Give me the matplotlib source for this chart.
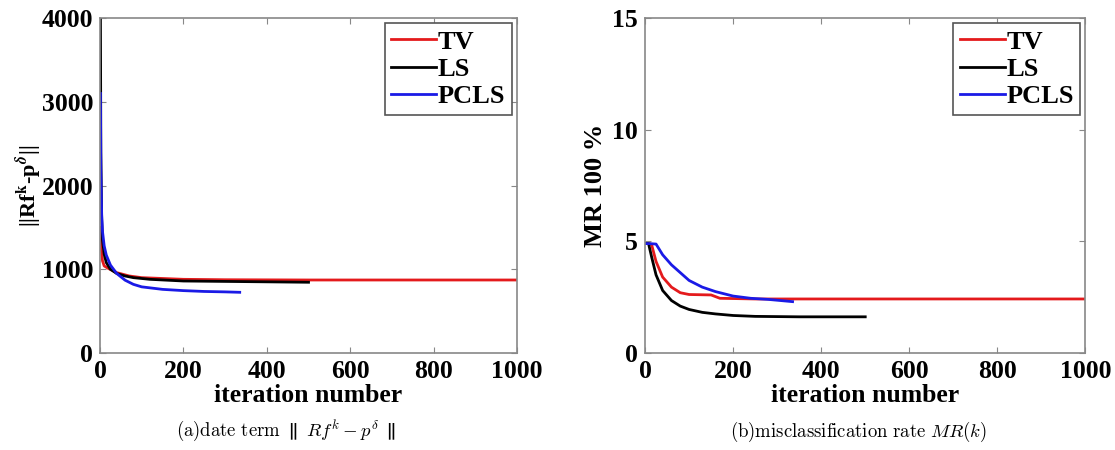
import matplotlib
matplotlib.use("Agg")
import matplotlib.pyplot as plt
import numpy as np

# (a) data term ||Rf^k - p^delta||
tv_a_x = [0, 3, 6, 10, 20, 40, 70, 100, 150, 200, 300, 500, 700, 1000]
tv_a_y = [1500, 1250, 1100, 1040, 1010, 960, 920, 900, 890, 880, 875, 872, 872, 872]
ls_a_x = [1, 2, 4, 6, 10, 15, 25, 40, 60, 80, 120, 200, 300, 400, 500]
ls_a_y = [4000, 2400, 1600, 1350, 1180, 1080, 1000, 950, 920, 900, 880, 860, 855, 850, 845]
pcls_a_x = [1, 2, 4, 6, 10, 15, 25, 40, 60, 80, 100, 150, 200, 250, 300, 335]
pcls_a_y = [3100, 2200, 1650, 1450, 1280, 1170, 1050, 950, 870, 820, 790, 760, 745, 735, 730, 725]

# (b) misclassification rate MR(k)
tv_b_x = [0, 10, 15, 25, 40, 60, 80, 100, 150, 170, 250, 400, 600, 1000]
tv_b_y = [4.9, 4.9, 4.85, 4.1, 3.4, 2.95, 2.7, 2.62, 2.6, 2.45, 2.42, 2.42, 2.42, 2.42]
ls_b_x = [0, 8, 15, 25, 40, 60, 80, 100, 130, 160, 200, 250, 350, 500]
ls_b_y = [4.9, 4.9, 4.3, 3.5, 2.8, 2.35, 2.1, 1.95, 1.82, 1.75, 1.68, 1.64, 1.62, 1.62]
pcls_b_x = [0, 10, 25, 40, 60, 80, 100, 130, 160, 200, 240, 280, 335]
pcls_b_y = [4.9, 4.9, 4.88, 4.4, 3.95, 3.6, 3.25, 2.95, 2.75, 2.55, 2.45, 2.4, 2.3]

labels = ["TV", "LS", "PCLS"]
colors = ["#e41a1c", "black", "#1a1ae6"]

plt.rcParams["font.family"] = "Liberation Serif"
plt.rcParams["font.weight"] = "bold"

fig = plt.figure(figsize=(11.15, 4.5), dpi=100)
ax1 = fig.add_axes([0.0897, 0.2156, 0.374, 0.744])
ax2 = fig.add_axes([0.5785, 0.2156, 0.395, 0.744])


def style(ax, ylim, yticks):
    ax.set_xlim(0, 1000)
    ax.set_ylim(*ylim)
    ax.set_xticks([0, 200, 400, 600, 800, 1000])
    ax.set_yticks(yticks)
    ax.tick_params(direction="in", top=True, right=True, labelsize=18.5,
                   length=4, color="#888888", pad=5)
    for lbl in ax.get_xticklabels() + ax.get_yticklabels():
        lbl.set_fontweight("bold")
    for s in ax.spines.values():
        s.set_color("#888888")
        s.set_linewidth(1.2)
    ax.set_xlabel("iteration number", fontsize=18.5, fontweight="bold", labelpad=1)
    leg = ax.legend(loc="upper right", handlelength=1.7,
                    fancybox=False, framealpha=1, borderpad=0.25,
                    borderaxespad=0.2,
                    labelspacing=0.15, handletextpad=0.05,
                    prop={"weight": "bold", "size": 19})
    leg.get_frame().set_edgecolor("#555555")
    leg.get_frame().set_linewidth(1.2)


ax1.plot(tv_a_x, tv_a_y, color=colors[0], lw=2, label=labels[0])
ax1.plot(ls_a_x, ls_a_y, color=colors[1], lw=2, label=labels[1])
ax1.plot(pcls_a_x, pcls_a_y, color=colors[2], lw=2, label=labels[2])
style(ax1, (0, 4000), [0, 1000, 2000, 3000, 4000])
ax1.set_ylabel(r"||Rf$^{\mathbf{k}}$-p$^{\delta}$||", fontsize=16,
               fontweight="bold", math_fontfamily="stix", labelpad=-1)

ax2.plot(tv_b_x, tv_b_y, color=colors[0], lw=2, label=labels[0])
ax2.plot(ls_b_x, ls_b_y, color=colors[1], lw=2, label=labels[1])
ax2.plot(pcls_b_x, pcls_b_y, color=colors[2], lw=2, label=labels[2])
style(ax2, (0, 15), [0, 5, 10, 15])
ax2.set_ylabel("MR 100 %", fontsize=19, fontweight="bold", labelpad=4)

fig.text(0.257, 0.03, r"$\mathrm{(a)date\ term}\ \parallel\ Rf^{k}-p^{\delta}\ \parallel$",
         ha="center", fontsize=13.5, math_fontfamily="cm")
fig.text(0.770, 0.03, r"$\mathrm{(b)misclassification\ rate}\ MR(k)$",
         ha="center", fontsize=13.5, math_fontfamily="cm")

fig.savefig("out.png", dpi=100)
